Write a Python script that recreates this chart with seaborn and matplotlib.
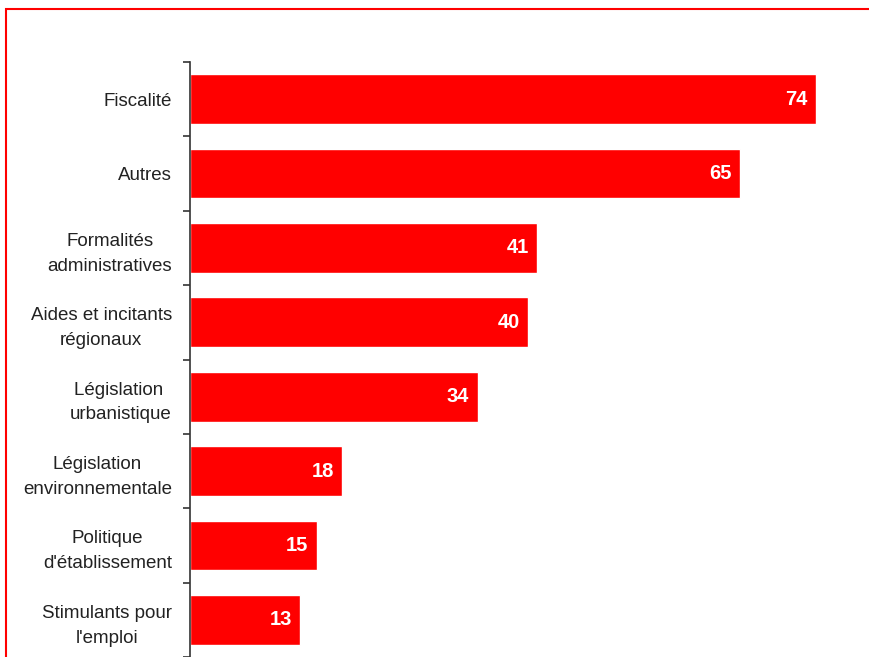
import matplotlib
matplotlib.use("Agg")
import matplotlib.pyplot as plt
import seaborn as sns
from matplotlib.patches import Rectangle

categories = ["Fiscalité", "Autres", "Formalités\nadministratives",
              "Aides et incitants\nrégionaux", "Législation \nurbanistique",
              "Législation\nenvironnementale", "Politique\nd'établissement",
              "Stimulants pour\nl'emploi"]
values = [74, 65, 41, 40, 34, 18, 15, 13]

sns.set_style("white")
plt.rcParams['font.family'] = ['Liberation Sans', 'DejaVu Sans']

W, H = 869, 657
fig = plt.figure(figsize=(W / 100, H / 100), dpi=100)
ax = fig.add_axes([190 / W, 0, (W - 190) / W, (H - 62) / H])

sns.barplot(x=values, y=categories, orient="h", color="#ff0000",
            saturation=1, width=0.67, ax=ax)

ax.set_xlim(0, (W - 190) / 8.46)
ax.set_ylim(7.5, -0.5)

# value labels inside bar ends
for i, v in enumerate(values):
    ax.annotate(str(v), xy=(v, i), xytext=(-6, 0), textcoords="offset points",
                ha="right", va="center", color="white", fontweight="bold",
                fontsize=14.5)

for s in ["top", "right", "bottom"]:
    ax.spines[s].set_visible(False)
ax.spines["left"].set_color("#333333")
ax.spines["left"].set_linewidth(1.2)

ax.set_xticks([])
ax.set_xlabel("")
ax.set_ylabel("")
ax.set_yticks(range(len(categories)))
ax.set_yticklabels(categories, fontsize=13.5, color="#222222",
                   multialignment="center", linespacing=1.6)
ax.tick_params(axis="y", which="major", length=0, pad=13)
ax.set_yticks([i - 0.5 for i in range(len(categories) + 1)], minor=True)
ax.tick_params(axis="y", which="minor", left=True, length=5, direction="out",
               color="#333333", width=1.2)

# red frame around the chart (cropped at right and bottom)
fig.patches.append(Rectangle((6 / W, -0.1), 2, 1.1 - 9 / H,
                             transform=fig.transFigure, fill=False,
                             edgecolor="#ff0000", linewidth=1.5))

fig.savefig("out.png", dpi=100)
